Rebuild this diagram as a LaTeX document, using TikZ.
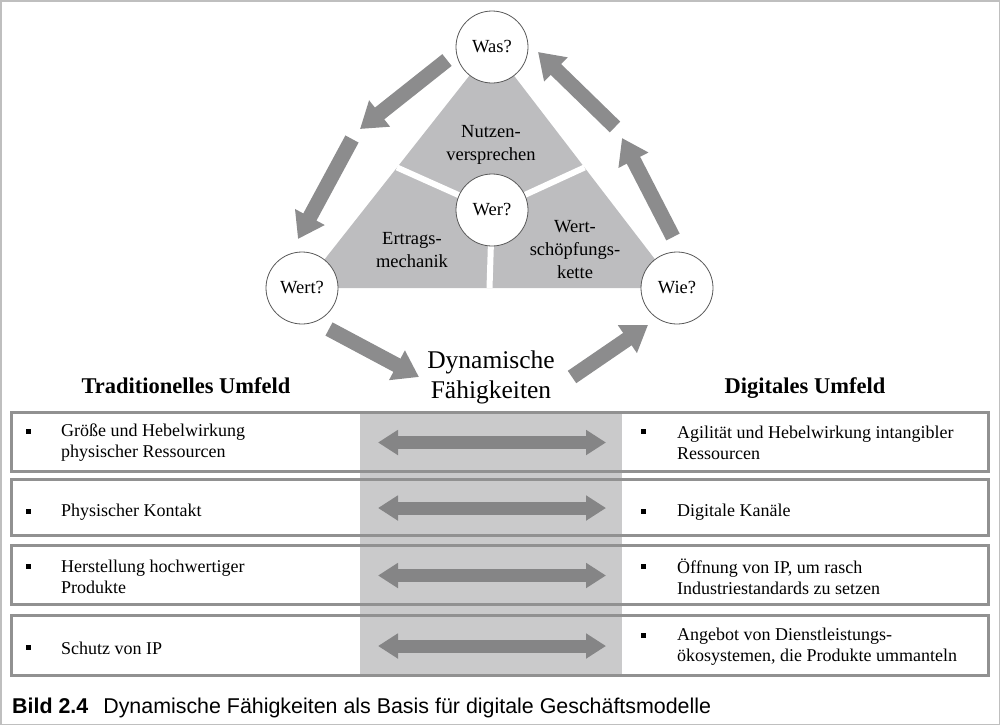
\documentclass[tikz,border=0pt]{standalone}
\usepackage{fontspec}
\setmainfont{Liberation Serif}
\newfontfamily\capfont{Liberation Sans}
\usetikzlibrary{arrows.meta,calc,backgrounds}
\definecolor{trigray}{RGB}{189,189,191}
\definecolor{bandgray}{RGB}{202,202,203}
\definecolor{arrowgray}{RGB}{140,140,141}
\definecolor{boxgray}{RGB}{145,145,145}
\newcommand{\blt}{\rule{5pt}{5pt}}
\begin{document}
\begin{tikzpicture}
  [x=1pt,y=-1pt,
   q/.style={circle,draw=black!65,line width=0.8pt,fill=white,minimum size=72pt,inner sep=0pt,
     font=\fontsize{18.5}{21}\selectfont},
   lbl/.style={align=center,font=\fontsize{18.5}{23}\selectfont},
   row/.style={draw=boxgray,line width=3pt,minimum width=977pt,inner sep=0pt},
   txt/.style={anchor=west,align=left,inner sep=0pt,font=\fontsize{18}{21}\selectfont},
   big/.style={-{Triangle[length=25pt,width=32pt]},arrowgray,line width=15pt},
   dbl/.style={{Triangle[length=20pt,width=24pt]}-{Triangle[length=20pt,width=24pt]},arrowgray!95!black,line width=13pt}]
\useasboundingbox (0,0) rectangle (1000,726);
\draw[black!25,line width=1.5pt] (0.75,0.75) rectangle (999.25,724.5);

% the four questions
\node (was)[q] at (492,47)  {Was?};
\node (wer)[q] at (492,210) {Wer?};
\node (wert)[q] at (302,288) {Wert?};
\node (wie)[q] at (677,288) {Wie?};

\begin{scope}[on background layer]
  \fill[trigray] (was.center) -- (wert.center) -- (wie.center) -- cycle;
  \foreach \from/\to in {was/wert,was/wie,wert/wie}
    \draw[white,line width=6pt] (wer.center) -- ($(\from.center)!0.5!(\to.center)$);
\end{scope}

\node (nutzen)[lbl] at (491,145) {Nutzen-\\versprechen};
\node (ertrag)[lbl] at (412,250) {Ertrags-\\mechanik};
\node (kette)[lbl] at (575,250) {Wert-\\schöpfungs-\\kette};
\node (dyn)[lbl,font=\fontsize{25.5}{30}\selectfont] at (491,377) {Dynamische\\Fähigkeiten};

% cycle arrows
\coordinate (c1) at (447,60);  \coordinate (c2) at (360,129);
\coordinate (c3) at (352,139); \coordinate (c4) at (298,239);
\coordinate (c5) at (673,237); \coordinate (c6) at (622,138);
\coordinate (c7) at (615,127); \coordinate (c8) at (538,52);
\coordinate (c9) at (329,329); \coordinate (c10) at (419,377);
\coordinate (c11) at (572,377); \coordinate (c12) at (648,325);
\foreach \from/\to in {c1/c2,c3/c4,c5/c6,c7/c8,c9/c10,c11/c12}
  \draw[big] (\from) -- (\to);

\node (trad)[font=\fontsize{22.5}{26}\selectfont\bfseries] at (186,386) {Traditionelles Umfeld};
\node (digi)[font=\fontsize{22.5}{26}\selectfont\bfseries] at (805,388) {Digitales Umfeld};

% rows
\fill[bandgray] (360,412) rectangle (622,675);
\foreach \i/\y/\h in {1/441.5/59,2/507/56,3/574.5/59,4/645/60}{
  \node (row\i)[row,minimum height=\h pt] at (499.5,\y) {};
  \coordinate (l\i) at (378,\y+1);
  \coordinate (r\i) at (606,\y+1);
  \draw[dbl] (l\i) -- (r\i);
}

\node (b1l)[inner sep=0pt] at (28,431) {\blt};
\node (t1l)[txt] at (61,442.5) {Größe und Hebelwirkung\\physischer Ressourcen};
\node (b1r)[inner sep=0pt] at (643,431) {\blt};
\node (t1r)[txt] at (677,442.5) {Agilität und Hebelwirkung intangibler\\Ressourcen};

\node (b2l)[inner sep=0pt] at (28,511) {\blt};
\node (t2l)[txt] at (61,512) {Physischer Kontakt};
\node (b2r)[inner sep=0pt] at (643,511) {\blt};
\node (t2r)[txt] at (677,512) {Digitale Kanäle};

\node (b3l)[inner sep=0pt] at (28,566) {\blt};
\node (t3l)[txt] at (61,577) {Herstellung hochwertiger\\Produkte};
\node (b3r)[inner sep=0pt] at (643,566) {\blt};
\node (t3r)[txt] at (677,577) {Öffnung von IP, um rasch\\Industriestandards zu setzen};

\node (b4l)[inner sep=0pt] at (28,647) {\blt};
\node (t4l)[txt] at (61,648) {Schutz von IP};
\node (b4r)[inner sep=0pt] at (643,635) {\blt};
\node (t4r)[txt] at (677,647) {Angebot von Dienstleistungs-\\ökosystemen, die Produkte ummanteln};

\node (cap)[anchor=base west,inner sep=0pt,font=\fontsize{21.4}{24}\capfont] at (12,713)
  {\textbf{Bild 2.4}\hspace{15pt}Dynamische Fähigkeiten als Basis für digitale Geschäftsmodelle};
\end{tikzpicture}
\end{document}
